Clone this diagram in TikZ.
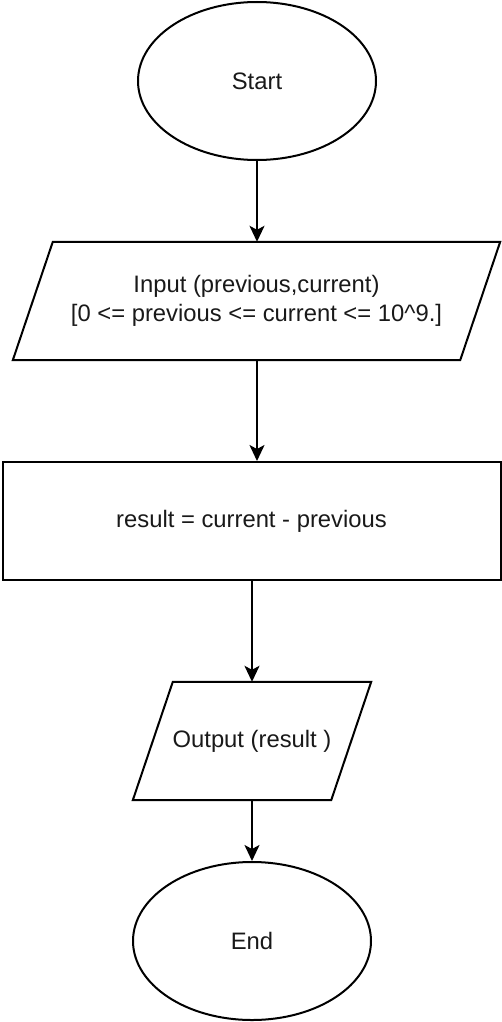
\documentclass[tikz,border=0pt]{standalone}
\usepackage{fontspec}
\setmainfont{Liberation Sans}
\usetikzlibrary{shapes.geometric,arrows.meta,calc}
\begin{document}
\begin{tikzpicture}[x=1pt,y=-1pt,
  every node/.style={font=\fontsize{23.8}{28.5}\selectfont, text=black!90, align=center, inner sep=0pt},
  oval/.style={ellipse, draw, line width=2pt, minimum width=238pt, minimum height=158pt},
  boxnode/.style={rectangle, draw, line width=2pt, minimum width=498pt, minimum height=118pt},
  ionode/.style={rectangle, minimum height=118pt},
  outline/.style={line width=2pt, line join=miter},
  flow/.style={line width=2pt, -{Stealth[length=16pt,width=15pt,inset=4pt]}}
]
\useasboundingbox (0,0) rectangle (502,1022);
\node[oval] (start) at (257,81) {Start};
\node[ionode, minimum width=487pt] (inp) at (256.5,301) {Input (previous,current)\\\relax [0 <= previous <= current <= 10\^{}9.]};
\draw[outline] (inp.south west) -- ($(inp.north west)+(40,0)$) -- (inp.north east) -- ($(inp.south east)+(-40,0)$) -- cycle;
\node[boxnode] (res) at (251.5,521) {result = current - previous};
\node[ionode, minimum width=238pt] (out) at (252,741) {Output (result )};
\draw[outline] (out.south west) -- ($(out.north west)+(40,0)$) -- (out.north east) -- ($(out.south east)+(-40,0)$) -- cycle;
\node[oval] (end) at (252,941) {End};
\coordinate (inpfoot) at ($(inp.south)+(0.5,0)$);
\coordinate (resfoot) at ($(res.south)+(0.5,0)$);
\draw[flow] (start.south) -- (start.south |- inp.north);
\draw[flow] (inpfoot) -- (inpfoot |- res.north);
\draw[flow] (resfoot) -- (out.north);
\draw[flow] (out.south) -- (end.north);
\end{tikzpicture}
\end{document}
